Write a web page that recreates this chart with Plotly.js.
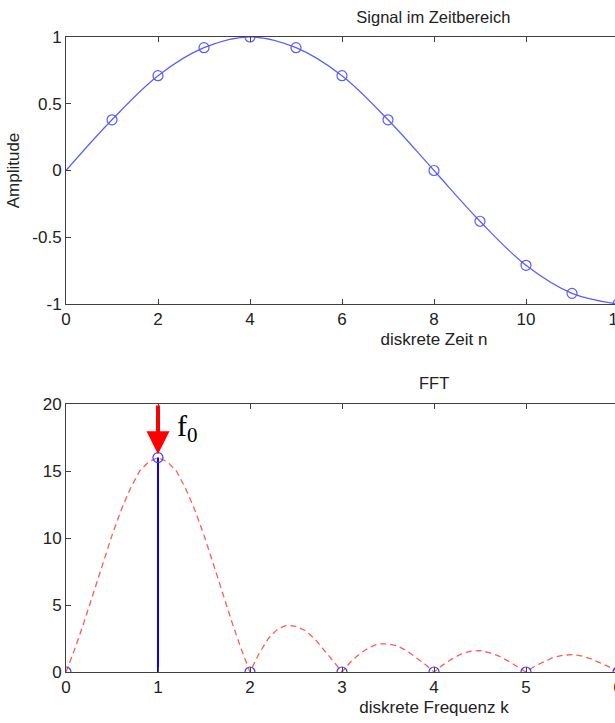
<!DOCTYPE html>
<html>
<head>
<meta charset="utf-8">
<script src="https://cdn.plot.ly/plotly-3.0.1.min.js"></script>
<style>
html,body{margin:0;padding:0;overflow:hidden;background:#fff;}
#chart{width:810px;height:723px;}
</style>
</head>
<body>
<div id="chart"></div>
<script>
// ---- data ----
var timeN = [0,1,2,3,4,5,6,7,8,9,10,11,12];
var signalValues = [0,0.38,0.71,0.92,1,0.92,0.71,0.38,0,-0.38,-0.71,-0.92,-1];

var freqK = [0,1,2,3,4,5,6];
var fftValues = [0,16,0,0,0,0,0];

var spectrumK = [0,0.1,0.2,0.3,0.4,0.5,0.6,0.7,0.8,0.9,1,1.1,1.2,1.3,1.4,1.5,1.6,1.7,1.8,1.9,2,
  2.1,2.2,2.3,2.4,2.5,2.6,2.7,2.8,2.9,3,3.1,3.2,3.3,3.4,3.5,3.6,3.7,3.8,3.9,4,
  4.1,4.2,4.3,4.4,4.5,4.6,4.7,4.8,4.9,5,5.1,5.2,5.3,5.4,5.5,5.6,5.7,5.8,5.9,6];
var spectrumValues = [0,1.8,3.8,5.9,8.1,10.2,12.1,13.7,15.0,15.7,16,15.7,15.0,13.7,12.1,10.2,8.1,5.9,3.8,1.8,0,
  1.4,2.5,3.2,3.5,3.4,3.1,2.5,1.7,0.85,0,0.8,1.4,1.85,2.1,2.1,1.95,1.6,1.1,0.6,0,
  0.55,1.0,1.35,1.55,1.6,1.45,1.2,0.85,0.45,0,0.45,0.8,1.1,1.25,1.3,1.2,1.0,0.7,0.4,0];

var topTitle = "Signal im Zeitbereich";
var bottomTitle = "FFT";
var topXLabel = "diskrete Zeit n";
var bottomXLabel = "diskrete Frequenz k";
var topYLabel = "Amplitude";
var peakLabel = "f<sub>0</sub>";
var peakK = 1, peakVal = 16;

var font = "Liberation Sans, Arial, sans-serif";
var axisCol = "#404040";
var txtCol = "#222";
var lineBlue = "#5a5aff";

var traces = [
  {x: timeN, y: signalValues, mode: "lines", line: {color: lineBlue, width: 1.2, shape: "spline"},
   xaxis: "x", yaxis: "y", hoverinfo: "none"},
  {x: timeN.slice(1), y: signalValues.slice(1), mode: "markers",
   marker: {symbol: "circle-open", size: 10, color: lineBlue, line: {width: 1.2, color: lineBlue}},
   xaxis: "x", yaxis: "y"},
  {x: spectrumK, y: spectrumValues, mode: "lines", line: {color: "#ff5a5a", width: 1.3, dash: "6px,4px"},
   xaxis: "x2", yaxis: "y2"},
  {x: [peakK, peakK], y: [0, peakVal], mode: "lines", line: {color: "#0000ff", width: 2},
   xaxis: "x2", yaxis: "y2"},
  {x: freqK, y: fftValues, mode: "markers",
   marker: {symbol: "circle-open", size: 10, color: "#3a3aff", line: {width: 1.2, color: "#3a3aff"}},
   xaxis: "x2", yaxis: "y2"}
];

var axBase = {
  showgrid: false, zeroline: false, showline: true, linecolor: axisCol, linewidth: 1,
  ticks: "inside", ticklen: 5, tickcolor: axisCol, mirror: "allticks",
  tickfont: {family: font, size: 17, color: txtCol}, fixedrange: true
};
function ax(extra){ return Object.assign({}, axBase, extra); }

var layout = {
  width: 810, height: 723,
  margin: {l: 66, r: 8, t: 37, b: 51},
  paper_bgcolor: "#fff", plot_bgcolor: "#fff",
  showlegend: false,
  title: {text: topTitle, font: {family: font, size: 16.5, color: txtCol},
          x: 0.535, xref: "container", xanchor: "center", y: 1 - 17/723, yref: "container", yanchor: "middle"},
  xaxis: ax({domain: [0, 1], range: [0, 16], tickvals: [0,2,4,6,8,10,12,14,16], anchor: "y",
             title: {text: topXLabel, font: {family: font, size: 17, color: txtCol}, standoff: 4}}),
  yaxis: ax({domain: [0.5795, 1], range: [-1, 1], tickvals: [-1,-0.5,0,0.5,1], ticktext: ["-1","-0.5","0","0.5","1"], anchor: "x",
             title: {text: topYLabel, font: {family: font, size: 17, color: txtCol}, standoff: 8}}),
  xaxis2: ax({domain: [0, 1], range: [0, 8], tickvals: [0,1,2,3,4,5,6,7,8], anchor: "y2",
              title: {text: bottomXLabel, font: {family: font, size: 17, color: txtCol}, standoff: 4}}),
  yaxis2: ax({domain: [0, 0.422], range: [0, 20], tickvals: [0,5,10,15,20], anchor: "x2"}),
  annotations: [
    {text: bottomTitle, xref: "paper", yref: "paper", x: 0.5, y: 0.422, yshift: 21,
     xanchor: "center", yanchor: "middle", showarrow: false, font: {family: font, size: 16.5, color: txtCol}},
    {x: peakK, y: 16.25, ax: peakK, ay: 20, xref: "x2", yref: "y2", axref: "x2", ayref: "y2",
     showarrow: true, arrowhead: 2, arrowsize: 1.15, arrowwidth: 4, arrowcolor: "#ff0000", text: ""},
    {text: peakLabel, xref: "x2", yref: "y2", x: 1.19, y: 18.2, xanchor: "left", yanchor: "middle",
     showarrow: false, font: {family: "Liberation Serif, Times New Roman, serif", size: 30, color: "#000"}}
  ]
};

Plotly.newPlot("chart", traces, layout, {staticPlot: true, displayModeBar: false});
</script>
</body>
</html>
